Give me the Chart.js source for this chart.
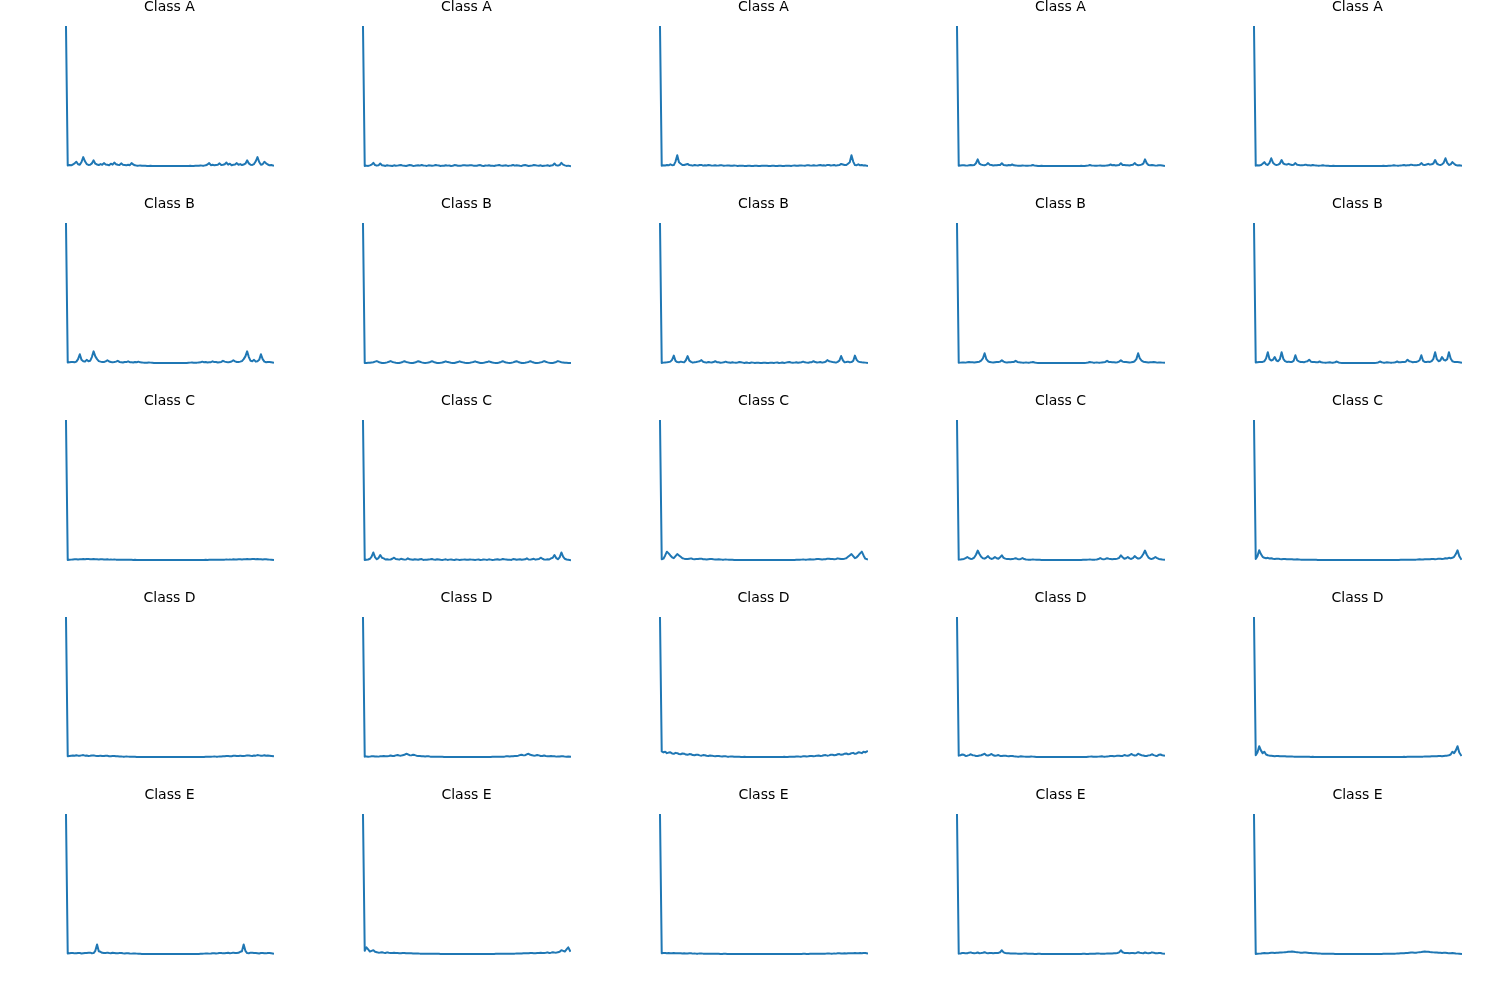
<!DOCTYPE html>
<html><head><meta charset="utf-8">
<script src="https://cdn.jsdelivr.net/npm/chart.js@4.4.1/dist/chart.umd.min.js"></script>
<style>
html,body{margin:0;padding:0;background:#fff}
#wrap{position:relative;width:1500px;height:1000px;overflow:hidden;background:#fff}
canvas{position:absolute}
</style>
</head><body>
<div id="wrap"></div>
<script>
// Spectrum magnitudes per panel (index 0 = dominant component)
const classA_1 = [100,
0.5,0.8,0.6,1.2,2.0,3.2,1.4,1.0,3.0,6.5, 3.5,1.5,0.9,1.0,2.0,4.2,1.8,1.2,0.8,1.5, 1.0,2.2,1.2,1.0,0.7,1.8,1.1,2.6,1.4,1.0,
0.8,2.0,1.0,0.8,0.6,1.0,0.7,2.2,1.2,0.6, 0.4,0.4,0.5,0.3,0.4,0.3,0.2,0.2,0.3,0.2, 0.2,0.1,0.2,0.2,0.1,0.1,0.2,0.1,0.1,0.1,
0.1,0.1,0.1,0.2,0.1,0.1,0.2,0.2,0.1,0.2, 0.2,0.3,0.2,0.2,0.3,0.4,0.3,0.5,0.4,0.4, 0.6,1.2,2.2,0.7,1.0,0.6,0.8,1.0,2.0,0.8,
1.0,1.4,2.6,1.1,1.8,0.7,1.0,1.2,2.2,1.0, 1.5,0.8,1.2,1.8,4.2,2.0,1.0,0.9,1.5,3.5, 6.5,3.0,1.0,1.4,3.2,2.0,1.2,0.6,0.8,0.5];
const classA_2 = [100,
0.5,0.8,0.6,1.0,1.5,2.8,1.2,0.8,1.0,2.3, 1.1,0.9,0.6,1.1,0.8,0.7,0.5,1.0,0.7,0.8, 1.0,1.2,0.8,0.7,0.6,0.9,1.2,1.1,0.6,0.7,
0.9,1.0,0.8,1.3,0.9,0.8,0.6,1.0,0.9,0.7, 0.8,1.2,1.0,0.9,0.6,0.8,0.7,1.1,0.8,0.9, 0.6,0.7,1.2,1.0,0.7,0.8,0.8,1.1,1.0,0.9,
0.9,1.0,1.1,0.8,0.8,0.7,1.0,1.2,0.7,0.6, 0.9,0.8,1.1,0.7,0.8,0.6,0.9,1.0,1.2,0.8, 0.7,0.9,1.0,0.6,0.8,0.9,1.3,0.8,1.0,0.9,
0.7,0.6,1.1,1.2,0.9,0.6,0.7,0.8,1.2,1.0, 0.8,0.7,1.0,0.5,0.7,0.8,1.1,0.6,0.9,1.1, 2.3,1.0,0.8,1.2,2.8,1.5,1.0,0.6,0.8,0.5];
const classA_3 = [100,
0.5,0.8,0.7,1.0,0.8,1.5,0.9,1.0,3.5,8.0, 3.0,2.0,1.0,1.0,1.4,1.8,1.0,0.8,0.6,1.0, 0.8,0.7,1.0,1.1,0.6,0.8,0.7,1.0,0.8,0.6,
0.7,0.9,0.6,0.7,0.9,0.8,0.5,0.6,0.7,0.7, 0.5,0.5,0.7,0.6,0.4,0.5,0.6,0.6,0.4,0.4, 0.5,0.5,0.3,0.4,0.5,0.5,0.4,0.4,0.5,0.5,
0.5,0.5,0.4,0.4,0.5,0.5,0.4,0.3,0.5,0.5, 0.4,0.4,0.6,0.6,0.5,0.4,0.6,0.7,0.5,0.5, 0.7,0.7,0.6,0.5,0.8,0.9,0.7,0.6,0.9,0.7,
0.6,0.8,1.0,0.7,0.8,0.6,1.1,1.0,0.7,0.8, 1.0,0.6,0.8,1.0,1.8,1.4,1.0,1.0,2.0,3.0, 8.0,3.5,1.0,0.9,1.5,0.8,1.0,0.7,0.8,0.5];
const classA_4 = [100,
0.4,0.6,0.7,0.8,0.6,0.5,0.7,0.9,0.8,1.0, 2.2,5.0,2.0,1.2,0.9,0.8,1.2,2.3,1.1,0.9, 0.6,0.7,0.8,1.0,1.0,2.2,1.0,0.8,0.6,0.9,
0.8,1.3,0.7,0.6,0.5,0.5,0.4,0.6,0.5,0.4, 0.4,0.5,0.6,0.9,0.5,0.4,0.3,0.3,0.4,0.3, 0.2,0.3,0.2,0.2,0.3,0.3,0.2,0.2,0.2,0.2,
0.2,0.2,0.2,0.2,0.3,0.3,0.2,0.2,0.3,0.2, 0.3,0.4,0.3,0.3,0.4,0.5,0.9,0.6,0.5,0.4, 0.4,0.5,0.6,0.4,0.5,0.5,0.6,0.7,1.3,0.8,
0.9,0.6,0.8,1.0,2.2,1.0,1.0,0.8,0.7,0.6, 0.9,1.1,2.3,1.2,0.8,0.9,1.2,2.0,5.0,2.2, 1.0,0.8,0.9,0.7,0.5,0.6,0.8,0.7,0.6,0.4];
const classA_5 = [100,
0.5,0.7,0.6,0.9,1.8,3.0,1.4,1.0,2.5,5.8, 2.6,1.4,0.9,1.2,2.0,4.5,2.0,1.5,1.2,1.8, 1.3,1.0,1.2,2.3,1.1,1.0,0.7,0.8,0.9,1.2,
0.8,0.7,0.6,0.9,0.7,0.6,0.5,0.5,0.6,0.8, 0.5,0.4,0.4,0.3,0.3,0.4,0.3,0.3,0.2,0.2, 0.3,0.3,0.2,0.2,0.2,0.2,0.2,0.3,0.2,0.2,
0.2,0.2,0.3,0.2,0.2,0.2,0.2,0.2,0.3,0.3, 0.2,0.2,0.3,0.3,0.4,0.3,0.3,0.4,0.4,0.5, 0.8,0.6,0.5,0.5,0.6,0.7,0.9,0.6,0.7,0.8,
1.2,0.9,0.8,0.7,1.0,1.1,2.3,1.2,1.0,1.3, 1.8,1.2,1.5,2.0,4.5,2.0,1.2,0.9,1.4,2.6, 5.8,2.5,1.0,1.4,3.0,1.8,0.9,0.6,0.7,0.5];

const classB_1 = [100,
0.6,0.8,1.0,1.0,0.8,1.2,3.0,6.5,2.5,1.5, 1.2,2.5,1.5,1.8,4.5,8.6,5.0,3.0,1.6,1.2, 0.9,1.0,1.4,2.2,1.3,1.0,0.7,0.9,1.2,1.8,
1.0,0.8,0.6,1.0,0.9,1.4,0.8,0.7,0.6,1.0, 0.8,1.2,0.7,0.6,0.5,0.5,0.4,0.6,0.5,0.4, 0.3,0.3,0.3,0.3,0.2,0.2,0.3,0.2,0.2,0.2,
0.2,0.2,0.2,0.3,0.2,0.2,0.3,0.3,0.3,0.3, 0.4,0.5,0.6,0.4,0.5,0.5,0.6,0.7,1.2,0.8, 1.0,0.6,0.7,0.8,1.4,0.9,1.0,0.6,0.8,1.0,
1.8,1.2,0.9,0.7,1.0,1.3,2.2,1.4,1.0,0.9, 1.2,1.6,3.0,5.0,8.6,4.5,1.8,1.5,2.5,1.2, 1.5,2.5,6.5,3.0,1.2,0.8,1.0,1.0,0.8,0.6];
const classB_2 = [100,
0.4,0.5,0.6,0.6,0.8,1.0,1.4,1.8,1.2,0.8, 0.5,0.5,0.6,0.9,1.3,1.8,1.2,0.9,0.6,0.5, 0.5,0.8,1.2,1.7,1.2,0.9,0.6,0.5,0.5,0.8,
1.2,1.7,1.3,0.9,0.6,0.5,0.6,0.8,1.2,1.7, 1.2,0.8,0.5,0.5,0.6,0.8,1.2,1.6,1.1,0.9, 0.6,0.5,0.5,0.8,1.1,1.6,1.2,0.9,0.6,0.5,
0.5,0.6,0.9,1.2,1.6,1.1,0.8,0.5,0.5,0.6, 0.9,1.1,1.6,1.2,0.8,0.6,0.5,0.5,0.8,1.2, 1.7,1.2,0.8,0.6,0.5,0.6,0.9,1.3,1.7,1.2,
0.8,0.5,0.5,0.6,0.9,1.2,1.7,1.2,0.8,0.5, 0.5,0.6,0.9,1.2,1.8,1.3,0.9,0.6,0.5,0.5, 0.8,1.2,1.8,1.4,1.0,0.8,0.6,0.6,0.5,0.4];
const classB_3 = [100,
0.6,0.8,0.9,1.0,1.2,1.5,2.8,5.8,2.0,1.2, 1.0,1.5,1.2,1.0,2.5,5.5,2.2,1.3,0.8,1.0, 1.2,1.5,1.8,2.6,1.4,1.0,0.8,1.2,1.0,0.9,
1.2,1.8,1.1,1.0,0.7,0.8,1.0,1.5,1.1,0.9, 0.7,1.0,0.8,0.7,0.9,1.2,1.0,0.8,0.6,0.9, 0.7,0.6,0.9,0.8,0.6,0.7,0.8,0.6,0.5,0.7,
0.7,0.5,0.6,0.8,0.7,0.6,0.8,0.9,0.6,0.7, 0.9,0.6,0.8,1.0,1.2,0.9,0.7,0.8,1.0,0.7, 0.9,1.1,1.5,1.0,0.8,0.7,1.0,1.1,1.8,1.2,
0.9,1.0,1.2,0.8,1.0,1.4,2.6,1.8,1.5,1.2, 1.0,0.8,1.3,2.2,5.5,2.5,1.0,1.2,1.5,1.0, 1.2,2.0,5.8,2.8,1.5,1.2,1.0,0.9,0.8,0.6];
const classB_4 = [100,
0.4,0.5,0.6,0.6,0.5,0.7,0.9,0.8,0.7,0.6, 0.8,1.0,1.2,2.0,3.5,7.2,3.0,1.5,0.9,0.7, 0.6,0.8,1.0,0.9,1.2,2.2,1.2,0.8,0.6,0.7,
0.8,0.9,1.0,1.8,1.0,0.7,0.6,0.5,0.5,0.6, 0.5,0.5,0.7,1.0,0.6,0.4,0.3,0.3,0.3,0.3, 0.2,0.2,0.3,0.3,0.2,0.2,0.2,0.2,0.2,0.2,
0.2,0.2,0.2,0.2,0.2,0.2,0.3,0.3,0.2,0.2, 0.3,0.3,0.3,0.3,0.4,0.6,1.0,0.7,0.5,0.5, 0.6,0.5,0.5,0.6,0.7,1.0,1.8,1.0,0.9,0.8,
0.7,0.6,0.8,1.2,2.2,1.2,0.9,1.0,0.8,0.6, 0.7,0.9,1.5,3.0,7.2,3.5,2.0,1.2,1.0,0.8, 0.6,0.7,0.8,0.9,0.7,0.5,0.6,0.6,0.5,0.4];
const classB_5 = [100,
0.6,0.8,0.9,1.0,1.0,1.5,3.5,7.9,3.0,2.0, 2.5,4.5,2.0,1.5,3.0,7.9,3.2,1.6,1.0,1.2, 0.9,1.0,1.8,5.8,2.2,1.4,1.0,1.0,0.8,1.2,
1.5,2.6,1.2,1.0,0.9,0.8,0.7,1.3,0.8,0.6, 0.5,0.5,0.6,0.7,0.5,0.5,0.8,1.3,0.6,0.4, 0.3,0.3,0.3,0.3,0.2,0.2,0.2,0.2,0.2,0.2,
0.2,0.2,0.2,0.2,0.2,0.2,0.3,0.3,0.3,0.3, 0.4,0.6,1.3,0.8,0.5,0.5,0.7,0.6,0.5,0.5, 0.6,0.8,1.3,0.7,0.8,0.9,1.0,1.2,2.6,1.5,
1.2,0.8,1.0,1.0,1.4,2.2,5.8,1.8,1.0,0.9, 1.2,1.0,1.6,3.2,7.9,3.0,1.5,2.0,4.5,2.5, 2.0,3.0,7.9,3.5,1.5,1.0,1.0,0.9,0.8,0.6];

const classC_1 = [100,
0.3,0.4,0.5,0.6,0.7,0.8,0.6,0.7,0.8,0.9, 0.8,1.0,0.9,0.8,0.7,0.9,0.8,0.7,0.6,0.8, 0.7,0.6,0.6,0.7,0.5,0.6,0.5,0.6,0.5,0.5,
0.4,0.5,0.5,0.5,0.4,0.4,0.4,0.4,0.3,0.4, 0.3,0.3,0.3,0.3,0.2,0.3,0.3,0.3,0.2,0.2, 0.2,0.2,0.2,0.2,0.2,0.2,0.2,0.2,0.2,0.2,
0.2,0.2,0.2,0.2,0.2,0.2,0.2,0.2,0.2,0.2, 0.2,0.2,0.3,0.3,0.3,0.2,0.3,0.3,0.3,0.3, 0.4,0.3,0.4,0.4,0.4,0.4,0.5,0.5,0.5,0.4,
0.5,0.5,0.6,0.5,0.6,0.5,0.7,0.6,0.6,0.7, 0.8,0.6,0.7,0.8,0.9,0.7,0.8,0.9,1.0,0.8, 0.9,0.8,0.7,0.6,0.8,0.7,0.6,0.5,0.4,0.3];
const classC_2 = [100,
0.6,0.8,1.0,1.5,3.0,6.0,2.5,1.2,2.0,4.2, 2.2,1.8,1.0,1.2,0.9,1.0,1.5,2.3,1.3,1.1, 0.9,1.5,1.2,0.9,1.0,1.8,1.1,1.0,0.8,1.2,
1.0,0.8,1.2,1.3,0.7,0.9,0.8,1.0,1.1,1.3, 0.9,0.8,1.2,1.0,0.8,0.7,0.9,1.1,0.7,0.9, 1.0,0.8,0.7,1.0,0.9,0.7,0.8,0.9,1.0,0.8,
0.8,1.0,0.9,0.8,0.7,0.9,1.0,0.7,0.8,1.0, 0.9,0.7,1.1,0.9,0.7,0.8,1.0,1.2,0.8,0.9, 1.3,1.1,1.0,0.8,0.9,0.7,1.3,1.2,0.8,1.0,
1.2,0.8,1.0,1.1,1.8,1.0,0.9,1.2,1.5,0.9, 1.1,1.3,2.3,1.5,1.0,0.9,1.2,1.0,1.8,2.2, 4.2,2.0,1.2,2.5,6.0,3.0,1.5,1.0,0.8,0.6];
const classC_3 = [100,
0.8,1.2,3.5,6.2,5.0,3.5,2.2,1.5,3.0,4.5, 3.5,2.5,1.5,1.2,1.0,1.0,1.2,1.4,1.0,0.8, 0.9,1.0,1.2,1.2,0.8,0.7,0.6,0.8,0.9,0.9,
0.7,0.6,0.6,0.7,0.6,0.5,0.5,0.6,0.5,0.4, 0.4,0.4,0.3,0.3,0.3,0.3,0.3,0.3,0.2,0.2, 0.2,0.3,0.2,0.2,0.2,0.2,0.2,0.2,0.2,0.2,
0.2,0.2,0.2,0.2,0.2,0.2,0.2,0.2,0.3,0.2, 0.2,0.2,0.3,0.3,0.3,0.3,0.3,0.3,0.4,0.4, 0.4,0.5,0.6,0.5,0.5,0.6,0.7,0.6,0.6,0.7,
0.9,0.9,0.8,0.6,0.7,0.8,1.2,1.2,1.0,0.9, 0.8,1.0,1.4,1.2,1.0,1.0,1.2,1.5,2.5,3.5, 4.5,3.0,1.5,2.2,3.5,5.0,6.2,3.5,1.2,0.8];
const classC_4 = [100,
0.5,0.6,0.8,1.0,1.6,2.4,1.5,1.0,1.2,2.0, 4.0,7.0,4.5,2.5,1.5,1.2,2.0,3.0,1.6,1.0, 1.4,2.4,1.5,1.1,2.2,3.6,1.8,1.2,0.9,0.9,
0.8,1.0,1.2,1.5,1.0,0.7,1.0,1.6,0.9,0.6, 0.5,0.5,0.5,0.6,0.5,0.4,0.4,0.4,0.3,0.3, 0.3,0.3,0.3,0.3,0.2,0.2,0.2,0.2,0.2,0.2,
0.2,0.2,0.2,0.2,0.2,0.2,0.3,0.3,0.3,0.3, 0.3,0.3,0.4,0.4,0.4,0.5,0.6,0.5,0.5,0.5, 0.6,0.9,1.6,1.0,0.7,1.0,1.5,1.2,1.0,0.8,
0.9,0.9,1.2,1.8,3.6,2.2,1.1,1.5,2.4,1.4, 1.0,1.6,3.0,2.0,1.2,1.5,2.5,4.5,7.0,4.0, 2.0,1.2,1.0,1.5,2.4,1.6,1.0,0.8,0.6,0.5];
const classC_5 = [100,
1.0,3.0,7.2,4.5,2.5,1.8,1.5,1.8,1.3,1.5, 1.1,1.0,1.2,1.2,0.9,0.8,1.0,1.0,0.8,0.7, 0.8,0.8,0.6,0.6,0.7,0.6,0.5,0.5,0.5,0.5,
0.4,0.4,0.4,0.4,0.4,0.4,0.3,0.3,0.3,0.3, 0.3,0.3,0.3,0.3,0.3,0.3,0.3,0.3,0.2,0.3, 0.2,0.2,0.2,0.3,0.2,0.2,0.2,0.2,0.2,0.2,
0.2,0.2,0.2,0.2,0.2,0.2,0.3,0.2,0.2,0.2, 0.3,0.2,0.3,0.3,0.3,0.3,0.3,0.3,0.3,0.3, 0.3,0.3,0.3,0.3,0.4,0.4,0.4,0.4,0.4,0.4,
0.5,0.5,0.5,0.5,0.6,0.7,0.6,0.6,0.8,0.8, 0.7,0.8,1.0,1.0,0.8,0.9,1.2,1.2,1.0,1.1, 1.5,1.3,1.8,1.5,1.8,2.5,4.5,7.2,3.0,1.0];

const classD_1 = [100,
0.8,1.0,1.2,1.3,1.1,1.5,1.2,1.2,1.4,1.6, 1.2,1.3,1.0,1.1,1.3,1.4,1.1,1.0,0.9,1.2, 1.0,0.9,1.1,1.1,0.8,0.8,0.9,0.9,0.7,0.7,
0.6,0.6,0.5,0.5,0.6,0.5,0.4,0.4,0.4,0.4, 0.3,0.3,0.3,0.3,0.3,0.3,0.2,0.2,0.2,0.2, 0.2,0.2,0.2,0.2,0.2,0.2,0.2,0.2,0.2,0.2,
0.2,0.2,0.2,0.2,0.2,0.2,0.2,0.2,0.2,0.2, 0.2,0.2,0.2,0.2,0.3,0.3,0.3,0.3,0.3,0.3, 0.4,0.4,0.4,0.4,0.5,0.6,0.5,0.5,0.6,0.6,
0.7,0.7,0.9,0.9,0.8,0.8,1.1,1.1,0.9,1.0, 1.2,0.9,1.0,1.1,1.4,1.3,1.1,1.0,1.3,1.2, 1.6,1.4,1.2,1.2,1.5,1.1,1.3,1.2,1.0,0.8];
const classD_2 = [100,
0.5,0.6,0.4,0.5,0.7,0.8,0.6,0.6,0.5,0.7, 0.8,0.9,0.7,0.8,1.0,1.3,0.9,1.0,1.4,1.6, 1.3,1.2,1.5,1.8,2.5,2.2,1.5,1.4,1.8,1.6,
1.2,1.0,0.9,0.8,0.7,0.6,0.7,0.7,0.5,0.5, 0.5,0.5,0.4,0.4,0.4,0.4,0.3,0.3,0.3,0.3, 0.3,0.3,0.3,0.3,0.3,0.2,0.2,0.2,0.2,0.2,
0.2,0.2,0.2,0.2,0.2,0.3,0.3,0.3,0.3,0.3, 0.3,0.3,0.3,0.3,0.4,0.4,0.4,0.4,0.5,0.5, 0.5,0.5,0.7,0.7,0.6,0.7,0.8,0.9,1.0,1.2,
1.6,1.8,1.4,1.5,2.2,2.5,1.8,1.5,1.2,1.3, 1.6,1.4,1.0,0.9,1.3,1.0,0.8,0.7,0.9,0.8, 0.7,0.5,0.6,0.6,0.8,0.7,0.5,0.4,0.6,0.5];
const classD_3 = [100,
4.2,3.5,4.0,3.0,3.4,3.6,2.8,2.5,3.2,3.0, 2.4,2.2,2.8,2.6,2.0,1.8,2.3,2.2,1.6,1.5, 1.9,1.8,1.4,1.2,1.6,1.5,1.1,1.0,1.3,1.2,
0.9,0.8,1.0,0.9,0.7,0.6,0.8,0.7,0.5,0.5, 0.6,0.6,0.4,0.4,0.5,0.4,0.3,0.3,0.4,0.3, 0.3,0.3,0.2,0.2,0.3,0.3,0.2,0.2,0.2,0.2,
0.2,0.2,0.2,0.2,0.3,0.3,0.2,0.2,0.3,0.3, 0.3,0.4,0.3,0.3,0.4,0.5,0.4,0.4,0.6,0.6, 0.5,0.5,0.7,0.8,0.6,0.7,0.9,1.0,0.8,0.9,
1.2,1.3,1.0,1.1,1.5,1.6,1.2,1.4,1.8,1.9, 1.5,1.6,2.2,2.3,1.8,2.0,2.6,2.8,2.2,2.4, 3.0,3.2,2.5,2.8,3.6,3.4,3.0,4.0,3.5,4.2];
const classD_4 = [100,
1.2,1.5,2.0,1.8,1.0,1.2,1.6,2.2,1.5,1.4, 1.0,1.0,1.3,1.5,2.0,2.6,1.5,1.3,1.8,2.4, 1.5,1.1,1.3,1.6,1.0,0.9,1.1,1.2,0.9,0.8,
1.0,0.9,0.7,0.6,0.5,0.5,0.7,0.6,0.5,0.4, 0.4,0.4,0.6,0.5,0.4,0.3,0.3,0.3,0.3,0.3, 0.3,0.3,0.2,0.2,0.3,0.3,0.2,0.2,0.2,0.2,
0.2,0.2,0.2,0.2,0.3,0.3,0.2,0.2,0.3,0.3, 0.3,0.3,0.3,0.3,0.3,0.4,0.5,0.6,0.4,0.4, 0.4,0.5,0.6,0.7,0.5,0.5,0.6,0.7,0.9,1.0,
0.8,0.9,1.2,1.1,0.9,1.0,1.6,1.3,1.1,1.5, 2.4,1.8,1.3,1.5,2.6,2.0,1.5,1.3,1.0,1.0, 1.4,1.5,2.2,1.6,1.2,1.0,1.8,2.0,1.5,1.2];
const classD_5 = [100,
1.5,3.5,8.0,5.0,3.0,4.0,2.0,1.5,1.2,1.2, 1.0,0.8,0.9,1.0,0.8,0.7,0.7,0.8,0.6,0.6, 0.6,0.6,0.5,0.5,0.5,0.5,0.4,0.5,0.4,0.4,
0.4,0.4,0.3,0.4,0.3,0.3,0.3,0.3,0.3,0.3, 0.3,0.3,0.3,0.3,0.2,0.3,0.2,0.2,0.2,0.2, 0.2,0.2,0.2,0.2,0.2,0.2,0.2,0.2,0.2,0.2,
0.2,0.2,0.2,0.2,0.2,0.2,0.2,0.2,0.2,0.2, 0.2,0.2,0.2,0.2,0.3,0.2,0.3,0.3,0.3,0.3, 0.3,0.3,0.3,0.3,0.3,0.3,0.4,0.3,0.4,0.4,
0.4,0.4,0.5,0.4,0.5,0.5,0.5,0.5,0.6,0.6, 0.6,0.6,0.8,0.7,0.7,0.8,1.0,0.9,0.8,1.0, 1.2,1.2,1.5,2.0,4.0,3.0,5.0,8.0,3.5,1.5];

const classE_1 = [100,
0.6,0.8,1.0,1.0,0.7,0.7,0.9,0.9,0.6,0.8, 1.0,1.0,1.1,1.2,0.8,0.9,2.5,7.0,2.2,1.8, 1.1,1.0,0.9,1.2,0.9,0.8,1.1,1.0,0.8,0.7,
1.0,0.9,0.7,0.6,0.8,0.8,0.6,0.5,0.6,0.6, 0.5,0.4,0.4,0.3,0.3,0.3,0.3,0.3,0.2,0.2, 0.2,0.2,0.2,0.2,0.2,0.2,0.2,0.2,0.2,0.2,
0.2,0.2,0.2,0.2,0.2,0.2,0.2,0.2,0.2,0.2, 0.2,0.2,0.3,0.3,0.3,0.3,0.3,0.4,0.4,0.5, 0.6,0.6,0.5,0.6,0.8,0.8,0.6,0.7,0.9,1.0,
0.7,0.8,1.0,1.1,0.8,0.9,1.2,0.9,1.0,1.1, 1.8,2.2,7.0,2.5,0.9,0.8,1.2,1.1,1.0,1.0, 0.8,0.6,0.9,0.9,0.7,0.7,1.0,1.0,0.8,0.6];
const classE_2 = [100,
2.5,5.0,3.5,2.0,2.5,3.0,1.8,1.5,1.2,1.3, 1.5,1.2,1.0,1.4,1.1,1.0,0.9,1.1,1.0,0.9, 0.8,0.8,0.9,0.9,0.7,0.7,0.8,0.7,0.6,0.6,
0.6,0.6,0.5,0.5,0.5,0.5,0.5,0.5,0.4,0.4, 0.4,0.4,0.4,0.4,0.3,0.3,0.3,0.3,0.3,0.3, 0.3,0.3,0.3,0.3,0.2,0.2,0.3,0.3,0.2,0.2,
0.2,0.2,0.3,0.3,0.2,0.2,0.3,0.3,0.3,0.3, 0.3,0.3,0.3,0.3,0.3,0.3,0.4,0.4,0.4,0.4, 0.4,0.4,0.5,0.5,0.5,0.5,0.5,0.5,0.6,0.6,
0.6,0.6,0.7,0.8,0.7,0.7,0.9,0.9,0.8,0.8, 0.9,1.0,1.1,0.9,1.0,1.1,1.4,1.0,1.2,1.5, 1.3,1.2,1.5,1.8,3.0,2.5,2.0,3.5,5.0,2.5];
const classE_3 = [100,
0.7,0.9,1.0,0.8,0.9,0.8,0.7,0.9,0.8,0.7, 0.8,0.8,0.6,0.7,0.6,0.6,0.7,0.7,0.5,0.6, 0.5,0.5,0.6,0.6,0.5,0.5,0.4,0.4,0.5,0.5,
0.4,0.4,0.4,0.4,0.3,0.3,0.4,0.4,0.3,0.3, 0.3,0.3,0.3,0.3,0.2,0.2,0.3,0.3,0.2,0.2, 0.2,0.2,0.2,0.2,0.2,0.2,0.2,0.2,0.2,0.2,
0.2,0.2,0.2,0.2,0.2,0.2,0.2,0.2,0.2,0.2, 0.2,0.2,0.3,0.3,0.2,0.2,0.3,0.3,0.3,0.3, 0.3,0.3,0.4,0.4,0.3,0.3,0.4,0.4,0.4,0.4,
0.5,0.5,0.4,0.4,0.5,0.5,0.6,0.6,0.5,0.5, 0.6,0.5,0.7,0.7,0.6,0.6,0.7,0.6,0.8,0.8, 0.7,0.8,0.9,0.7,0.8,0.9,0.8,1.0,0.9,0.7];
const classE_4 = [100,
0.5,0.6,0.9,1.0,0.7,0.8,1.2,1.4,0.9,0.8, 1.0,1.3,0.8,0.9,1.1,1.5,1.0,0.8,0.9,1.0, 0.8,0.9,0.9,1.0,1.5,2.9,1.4,1.0,0.8,0.7,
0.6,0.6,0.6,0.6,0.5,0.5,0.5,0.5,0.6,0.6, 0.4,0.4,0.4,0.4,0.3,0.3,0.4,0.4,0.3,0.3, 0.3,0.3,0.3,0.3,0.2,0.2,0.3,0.3,0.2,0.2,
0.2,0.2,0.3,0.3,0.2,0.2,0.3,0.3,0.3,0.3, 0.3,0.3,0.4,0.4,0.3,0.3,0.4,0.4,0.4,0.4, 0.6,0.6,0.5,0.5,0.5,0.5,0.6,0.6,0.6,0.6,
0.7,0.8,1.0,1.4,2.9,1.5,1.0,0.9,0.9,0.8, 1.0,0.9,0.8,1.0,1.5,1.1,0.9,0.8,1.3,1.0, 0.8,0.9,1.4,1.2,0.8,0.7,1.0,0.9,0.6,0.5];
const classE_5 = [100,
0.3,0.4,0.5,0.6,0.8,0.9,0.8,0.7,1.0,1.2, 1.1,1.0,1.2,1.1,1.3,1.3,1.4,1.5,1.6,1.8, 1.9,2.0,1.8,1.6,1.5,1.4,1.2,1.2,1.3,1.3,
1.1,0.9,0.9,0.8,0.7,0.7,0.6,0.6,0.5,0.5, 0.5,0.5,0.4,0.4,0.4,0.4,0.3,0.3,0.3,0.3, 0.3,0.3,0.3,0.3,0.2,0.2,0.2,0.2,0.2,0.2,
0.2,0.2,0.2,0.2,0.2,0.2,0.3,0.3,0.3,0.3, 0.3,0.3,0.3,0.3,0.4,0.4,0.4,0.4,0.5,0.5, 0.5,0.5,0.6,0.6,0.7,0.7,0.8,0.9,0.9,1.1,
1.3,1.3,1.2,1.2,1.4,1.5,1.6,1.8,2.0,1.9, 1.8,1.6,1.5,1.4,1.3,1.3,1.1,1.2,1.0,1.1, 1.2,1.0,0.7,0.8,0.9,0.8,0.6,0.5,0.4,0.3];

const rowTitles = ['Class A', 'Class B', 'Class C', 'Class D', 'Class E'];
const panelRows = [
  [classA_1, classA_2, classA_3, classA_4, classA_5],
  [classB_1, classB_2, classB_3, classB_4, classB_5],
  [classC_1, classC_2, classC_3, classC_4, classC_5],
  [classD_1, classD_2, classD_3, classD_4, classD_5],
  [classE_1, classE_2, classE_3, classE_4, classE_5]
];
const sampleLabels = classA_1.map((_, i) => String(i));

const wrap = document.getElementById('wrap');
const CW = 227, CH = 173, COLSTEP = 297, ROWSTEP = 197, LEFT0 = 56;

panelRows.forEach((row, r) => {
  row.forEach((vals, c) => {
    const cv = document.createElement('canvas');
    cv.width = CW; cv.height = CH;
    cv.style.left = (LEFT0 + c * COLSTEP) + 'px';
    cv.style.top = (r * ROWSTEP) + 'px';
    cv.style.width = CW + 'px'; cv.style.height = CH + 'px';
    wrap.appendChild(cv);
    const lo = Math.min(...vals), hi = Math.max(...vals), rng = hi - lo;
    new Chart(cv.getContext('2d'), {
      type: 'line',
      data: {
        labels: sampleLabels,
        datasets: [{
          data: vals,
          borderColor: '#1f77b4',
          borderWidth: 2,
          pointRadius: 0,
          fill: false,
          tension: 0,
          borderJoinStyle: 'round',
          borderCapStyle: 'square'
        }]
      },
      options: {
        responsive: false,
        animation: false,
        devicePixelRatio: 1,
        events: [],
        layout: { padding: { left: 10, right: 10, top: 0, bottom: 0 } },
        plugins: {
          legend: { display: false },
          tooltip: { enabled: false },
          title: {
            display: true,
            text: rowTitles[r],
            color: '#000000',
            font: { family: "'DejaVu Sans', sans-serif", size: 14, weight: 'normal', lineHeight: 1 },
            padding: { top: 0, bottom: 6 }
          }
        },
        scales: {
          x: { display: false, offset: false },
          y: { display: false, min: lo - 0.05 * rng, max: hi + 0.05 * rng }
        }
      }
    });
  });
});
</script>
</body></html>
